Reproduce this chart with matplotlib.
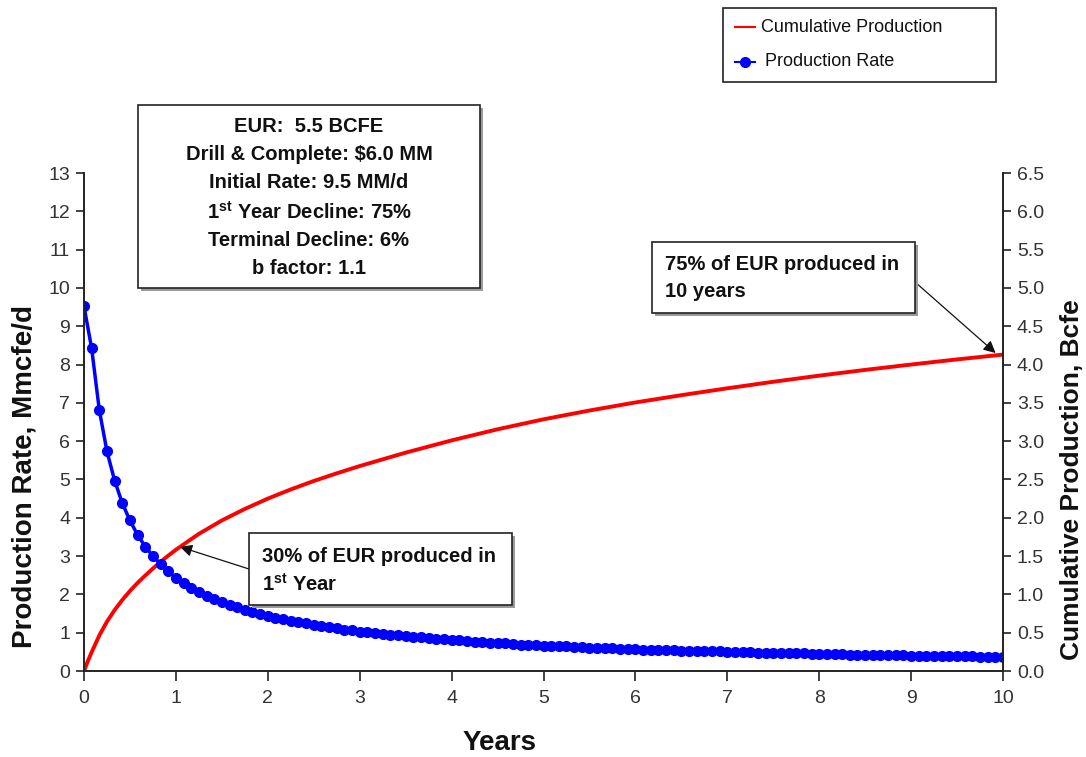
import numpy as np
import matplotlib
matplotlib.use("Agg")
import matplotlib.pyplot as plt
from matplotlib.patches import Rectangle
from matplotlib.lines import Line2D

# ---------- data ----------
months = np.arange(0, 121)
years = months / 12.0

# production rate, Mmcfe/d (one point per month)
rate = [9.52, 8.42, 6.81, 5.73, 4.97, 4.38, 3.93, 3.55, 3.25, 3.00, 2.79, 2.60,
        2.44, 2.30, 2.17, 2.07, 1.97, 1.88, 1.80, 1.73, 1.66, 1.60, 1.54, 1.48,
        1.43, 1.39, 1.35, 1.31, 1.27, 1.24, 1.20, 1.17, 1.14, 1.11, 1.08, 1.06,
        1.03, 1.01, 0.99, 0.97, 0.95, 0.93, 0.91, 0.89, 0.88, 0.86, 0.84, 0.83,
        0.81, 0.80, 0.78, 0.77, 0.76, 0.74, 0.73, 0.72, 0.71, 0.69, 0.68, 0.67,
        0.66, 0.65, 0.64, 0.64, 0.63, 0.62, 0.61, 0.60, 0.60, 0.59, 0.58, 0.58,
        0.57, 0.56, 0.56, 0.55, 0.54, 0.54, 0.53, 0.53, 0.52, 0.52, 0.51, 0.51,
        0.50, 0.50, 0.49, 0.49, 0.48, 0.48, 0.47, 0.47, 0.47, 0.46, 0.46, 0.45,
        0.45, 0.45, 0.44, 0.44, 0.43, 0.43, 0.43, 0.42, 0.42, 0.41, 0.41, 0.41,
        0.40, 0.40, 0.40, 0.39, 0.39, 0.39, 0.38, 0.38, 0.38, 0.37, 0.37, 0.37,
        0.36]

# cumulative production, Bcfe
cum_t = [0, 0.042, 0.083, 0.167, 0.25, 0.333, 0.417, 0.5, 0.583, 0.667, 0.75,
         0.833, 0.917, 1.0, 1.25, 1.5, 1.75, 2.0, 2.25, 2.5, 2.75, 3.0, 3.5,
         4.0, 4.5, 5.0, 5.5, 6.0, 6.5, 7.0, 7.5, 8.0, 8.5, 9.0, 9.5, 10.0]
cum_bcfe = [0, 0.13, 0.245, 0.465, 0.645, 0.795, 0.928, 1.045, 1.15, 1.247,
            1.338, 1.425, 1.506, 1.583, 1.79, 1.965, 2.115, 2.25, 2.37, 2.48,
            2.58, 2.675, 2.85, 3.01, 3.155, 3.285, 3.40, 3.505, 3.60, 3.69,
            3.775, 3.855, 3.93, 4.00, 4.067, 4.13]

well_lines = ["EUR:  5.5 BCFE", "Drill & Complete: $6.0 MM",
              "Initial Rate: 9.5 MM/d", "1$\\mathregular{^{st}}$ Year Decline: 75%",
              "Terminal Decline: 6%", "b factor: 1.1"]
note_1yr = ["30% of EUR produced in", "1$\\mathregular{^{st}}$ Year"]
note_10yr = ["75% of EUR produced in", "10 years"]

# ---------- fonts ----------
FONT = "Liberation Sans"
plt.rcParams["font.family"] = [FONT, "DejaVu Sans"]
plt.rcParams["mathtext.fontset"] = "custom"
plt.rcParams["mathtext.rm"] = FONT
plt.rcParams["mathtext.bf"] = FONT + ":bold"

W, H = 1086, 757
def fx(px):
    return px / W
def fy(py):
    return 1 - py / H

fig = plt.figure(figsize=(W / 100, H / 100), dpi=100)
ax = fig.add_axes([fx(84), fy(671), fx(1003) - fx(84), fy(173) - fy(671)])
ax2 = ax.twinx()
ax.set_zorder(ax2.get_zorder() + 1)
ax.patch.set_visible(False)

ax.plot(years, rate, color="#0000FF", lw=2.5, marker="o", ms=7,
        mec="#0000FF", mfc="#0000FF")
ax2.plot(cum_t, cum_bcfe, color="#FF0000", lw=2.8)

ax.set_xlim(0, 10)
ax.set_ylim(0, 13)
ax2.set_ylim(0, 6.5)
ax.set_xticks(range(0, 11))
ax.set_yticks(range(0, 14))
ax2.set_yticks(np.arange(0, 6.51, 0.5))
ax2.set_yticklabels([f"{v:.1f}" for v in np.arange(0, 6.51, 0.5)])

for a in (ax, ax2):
    a.spines["top"].set_visible(False)
    for s in a.spines.values():
        s.set_color("#222222")
        s.set_linewidth(1.2)
    a.tick_params(direction="out", length=6, width=1.2, labelsize=14,
                  colors="#222222", labelcolor="#333333", pad=4)
ax.tick_params(axis="x", length=7, pad=7)

fig.text(fx(500), fy(743), "Years", ha="center", va="center",
         fontsize=20, fontweight="bold", color="#111111")
fig.text(fx(25), fy(477), "Production Rate, Mmcfe/d", rotation=90,
         ha="center", va="center", fontsize=20, fontweight="bold", color="#111111")
fig.text(fx(1072), fy(480), "Cumulative Production, Bcfe", rotation=90,
         ha="center", va="center", fontsize=19, fontweight="bold", color="#111111")

# ---------- boxes ----------
def box(x0, y0, x1, y1, shadow=True):
    if shadow:
        fig.add_artist(Rectangle((fx(x0) + fx(3), fy(y1) - 3 / H), fx(x1) - fx(x0),
                                 fy(y0) - fy(y1), transform=fig.transFigure,
                                 facecolor="#9a9a9a", edgecolor="none", zorder=5))
    fig.add_artist(Rectangle((fx(x0), fy(y1)), fx(x1) - fx(x0), fy(y0) - fy(y1),
                             transform=fig.transFigure, facecolor="white",
                             edgecolor="#222222", lw=1.2, zorder=6))

box(138, 105, 480, 288)
for i, line in enumerate(well_lines):
    fig.text(fx(309), fy(126 + 28.5 * i), line, ha="center", va="center",
             fontsize=14.5, fontweight="bold", color="#111111", zorder=7)

box(249, 533, 512, 605)
for i, line in enumerate(note_1yr):
    fig.text(fx(262), fy(556 + 28 * i), line, ha="left", va="center",
             fontsize=14.5, fontweight="bold", color="#111111", zorder=7)
ax2.annotate("", xy=(1.045, 1.62), xycoords="data",
             xytext=(fx(249), fy(569)), textcoords="figure fraction",
             arrowprops=dict(arrowstyle="-|>", color="#111111", lw=0.9,
                             mutation_scale=18, shrinkA=0, shrinkB=0),
             zorder=8)

box(652, 242, 915, 313)
for i, line in enumerate(note_10yr):
    fig.text(fx(665), fy(264 + 28 * i), line, ha="left", va="center",
             fontsize=14.5, fontweight="bold", color="#111111", zorder=7)
ax2.annotate("", xy=(9.92, 4.15), xycoords="data",
             xytext=(fx(915), fy(282)), textcoords="figure fraction",
             arrowprops=dict(arrowstyle="-|>", color="#111111", lw=0.9,
                             mutation_scale=18, shrinkA=0, shrinkB=0),
             zorder=8)

# ---------- legend ----------
box(723, 8, 996, 82, shadow=False)
fig.add_artist(Line2D([fx(735), fx(755)], [fy(27), fy(27)], color="#FF0000",
                      lw=1.5, transform=fig.transFigure, zorder=7))
fig.text(fx(761), fy(27), "Cumulative Production", ha="left", va="center",
         fontsize=13, color="#111111", zorder=7)
fig.add_artist(Line2D([fx(735), fx(755)], [fy(62), fy(62)], color="#0000FF",
                      lw=1.5, transform=fig.transFigure, zorder=7))
fig.add_artist(Line2D([fx(745)], [fy(62)], color="#0000FF", marker="o", ms=7,
                      ls="none", transform=fig.transFigure, zorder=8))
fig.text(fx(765), fy(62), "Production Rate", ha="left", va="center",
         fontsize=13, color="#111111", zorder=7)

fig.savefig("out.png", dpi=100)
